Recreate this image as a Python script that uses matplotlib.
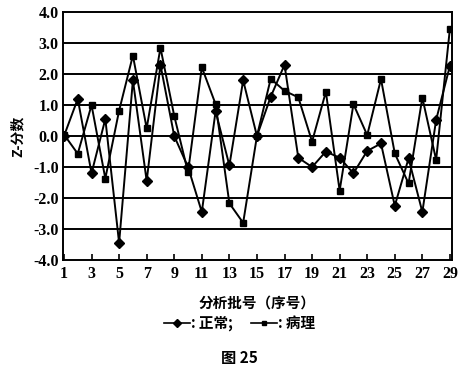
import numpy as np
import matplotlib
matplotlib.use("Agg")
import matplotlib.pyplot as plt
from matplotlib.lines import Line2D

plt.rcParams['font.family'] = ['Liberation Serif', 'Noto Sans CJK SC']

# Données
batch = np.arange(1, 30)
normal = [0.0, 1.2, -1.2, 0.55, -3.45, 1.8, -1.45, 2.3, 0.0, -1.0,
          -2.45, 0.8, -0.95, 1.8, 0.0, 1.27, 2.3, -0.7, -1.0, -0.5,
          -0.7, -1.2, -0.48, -0.24, -2.25, -0.72, -2.45, 0.52, 2.27]
patho = [0.05, -0.57, 1.0, -1.37, 0.82, 2.6, 0.25, 2.85, 0.65, -1.17,
         2.22, 1.03, -2.17, -2.8, 0.0, 1.85, 1.46, 1.25, -0.18, 1.43,
         -1.76, 1.03, 0.03, 1.84, -0.56, -1.53, 1.24, -0.77, 3.47]
yticks = np.arange(-4, 5)
xticks = np.arange(1, 30, 2)

fig = plt.figure(figsize=(4.65, 3.79), dpi=100)
ax = fig.add_axes([0.1355, 0.314, 0.8365, 0.654])

for y in yticks[1:-1]:
    ax.axhline(y, color='black', lw=1.4, zorder=1)

ax.plot(batch, normal, color='black', lw=1.4, marker='D', ms=5.5, zorder=3)
ax.plot(batch, patho, color='black', lw=1.4, marker='s', ms=5, zorder=3)

ax.set_xlim(0.93, 29.15)
ax.set_ylim(-4, 4)
ax.set_xticks(xticks)
ax.set_yticks(yticks)
ax.set_yticklabels([f"{v:.1f}" for v in yticks], fontweight='bold', fontsize=11.5)
ax.set_xticklabels([str(v) for v in xticks], fontweight='bold', fontsize=11.5)
ax.tick_params(axis='x', direction='in', length=4, width=1.2, pad=4)
ax.tick_params(axis='y', length=0, pad=3)
for s in ax.spines.values():
    s.set_linewidth(1.4)

ax.set_ylabel("Z-分数", fontweight='bold', fontsize=10,
              family=['Noto Sans CJK SC', 'DejaVu Sans'], labelpad=6)
ax.set_xlabel("分析批号（序号）", fontweight='bold', fontsize=10.5,
              family=['Noto Sans CJK SC', 'DejaVu Sans'], labelpad=9)

handles = [Line2D([], [], color='black', lw=1.2, marker='D', ms=4),
           Line2D([], [], color='black', lw=1.2, marker='s', ms=3.5)]
fig.legend(handles, [": 正常;", ": 病理"], loc='center', bbox_to_anchor=(0.515, 0.148),
           ncol=2, frameon=False, handlelength=1.8, handletextpad=0.1, columnspacing=1.2,
           prop={'family': ['Noto Sans CJK SC', 'DejaVu Sans'], 'weight': 'bold', 'size': 10.5})

fig.text(0.515, 0.055, "图 25", ha='center', va='center', fontsize=11, fontweight='bold',
         family=['Noto Sans CJK SC', 'DejaVu Sans'])

fig.savefig("out.png", dpi=100)
